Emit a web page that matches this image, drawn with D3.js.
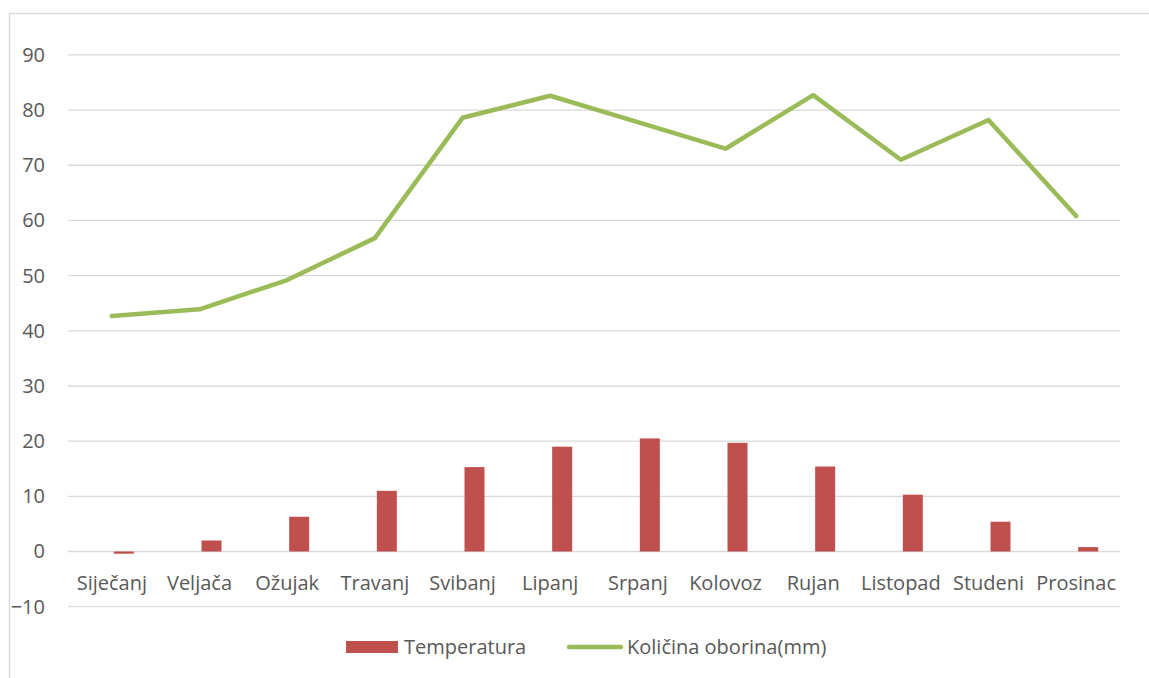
<!DOCTYPE html>
<html>
<head>
<meta charset="utf-8">
<script src="https://cdn.jsdelivr.net/npm/d3@7"></script>
<style>
  body { margin: 0; background: #fff; }
  text { font-family: "Open Sans", "Liberation Sans", sans-serif; fill: #595959; }
</style>
</head>
<body>
<svg id="mainSVG" width="1149" height="678"></svg>
<script>
var months = ['Siječanj','Veljača','Ožujak','Travanj','Svibanj','Lipanj','Srpanj','Kolovoz','Rujan','Listopad','Studeni','Prosinac'];
var temperatura = [-0.4, 2.0, 6.3, 11.0, 15.3, 19.0, 20.5, 19.7, 15.4, 10.3, 5.4, 0.8];
var oborina = [42.7, 43.9, 49.2, 56.8, 78.6, 82.6, 77.8, 73.0, 82.7, 71.0, 78.2, 60.8];
var yTicks = [-10, 0, 10, 20, 30, 40, 50, 60, 70, 80, 90];
var seriesNames = ['Temperatura', 'Količina oborina(mm)'];

var red = '#C0504D';
var green = '#9BBB59';
var gridColor = '#d9d9d9';
var fontSize = 20;

var $svg = d3.select('#mainSVG');

// chart frame (cut off at right and bottom)
$svg.append('rect')
    .attr('x', 9.5).attr('y', 13.5)
    .attr('width', 1200).attr('height', 700)
    .attr('fill', 'none')
    .attr('stroke', gridColor)
    .attr('stroke-width', 1.3);

var x = d3.scaleBand().domain(months).range([68, 1120]);
var y = d3.scaleLinear().domain([-10, 90]).range([606.7, 54.9]);
// two-slot cluster per month, bars sit in the right slot
var half = x.bandwidth() / 2;
var xSub = d3.scaleBand().domain(['_', 'T']).range([half - 18, half + 22]);

// gridlines
$svg.append('g').attr('id', 'grid')
    .selectAll('line').data(yTicks)
    .enter().append('line')
    .attr('x1', 68).attr('x2', 1120)
    .attr('y1', d => y(d)).attr('y2', d => y(d))
    .attr('stroke', gridColor)
    .attr('stroke-width', 1.3);

// y axis labels
var yAxis = d3.axisLeft(y).tickValues(yTicks).tickSize(0).tickPadding(0);
var $yAxis = $svg.append('g').attr('transform', 'translate(45,0)').call(yAxis);
$yAxis.select('.domain').remove();
$yAxis.selectAll('text')
    .attr('font-size', fontSize)
    .attr('fill', '#595959')
    .attr('font-family', '"Open Sans", sans-serif');

// bars
$svg.append('g').attr('id', 'bars')
    .selectAll('rect').data(temperatura)
    .enter().append('rect')
    .attr('x', (d, i) => x(months[i]) + xSub('T'))
    .attr('width', xSub.bandwidth())
    .attr('y', d => Math.min(y(d), y(0)))
    .attr('height', d => Math.abs(y(d) - y(0)))
    .attr('fill', red);

// month labels
var xAxis = d3.axisBottom(x).tickSize(0).tickPadding(0);
var $xAxis = $svg.append('g').attr('transform', 'translate(0,576)').call(xAxis);
$xAxis.select('.domain').remove();
$xAxis.selectAll('text')
    .attr('font-size', fontSize)
    .attr('fill', '#595959')
    .attr('font-family', '"Open Sans", sans-serif');

// precipitation line
var line = d3.line()
    .x((d, i) => x(months[i]) + half)
    .y(d => y(d));

$svg.append('path')
    .datum(oborina)
    .attr('d', line)
    .attr('fill', 'none')
    .attr('stroke', green)
    .attr('stroke-width', 4.5)
    .attr('stroke-linejoin', 'round')
    .attr('stroke-linecap', 'round');

// legend
var $legend = $svg.append('g').attr('id', 'legend');
$legend.append('rect')
    .attr('x', 346).attr('y', 641)
    .attr('width', 52).attr('height', 12)
    .attr('fill', red);
$legend.append('text')
    .attr('x', 404).attr('y', 654)
    .attr('font-size', fontSize)
    .text(seriesNames[0]);
$legend.append('line')
    .attr('x1', 569).attr('x2', 621)
    .attr('y1', 647).attr('y2', 647)
    .attr('stroke', green)
    .attr('stroke-width', 4.5)
    .attr('stroke-linecap', 'round');
$legend.append('text')
    .attr('x', 627).attr('y', 654)
    .attr('font-size', fontSize)
    .text(seriesNames[1]);
</script>
</body>
</html>
